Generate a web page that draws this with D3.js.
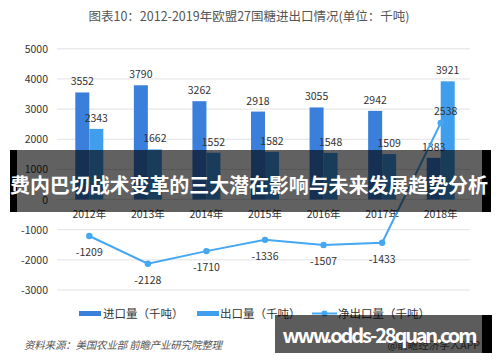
<!DOCTYPE html>
<html><head><meta charset="utf-8">
<script src="https://cdn.jsdelivr.net/npm/d3@7"></script>
<style>body{margin:0;background:#fff}svg{display:block}text{font-family:"Noto Sans CJK SC","Noto Sans",sans-serif}</style>
</head><body><svg id="c" width="500" height="362"></svg>
<script>
const years = ["2012年","2013年","2014年","2015年","2016年","2017年","2018年"];
const imports = [3552,3790,3262,2918,3055,2942,1383];
const exports = [2343,1662,1552,1582,1548,1509,3921];
const net = [-1209,-2128,-1710,-1336,-1507,-1433,2538];
const yTicks = [5000,4000,3000,2000,1000,0,-1000,-2000,-3000];
const seriesNames = ["进口量（千吨）","出口量（千吨）","净出口量（千吨）"];

const svg = d3.select("#c");
const x = d3.scaleBand().domain(years).range([60,470]);
const y = d3.scaleLinear().domain([-3000,5000]).range([290,48.8]);
const bw = 14;
const cImp = "#3a7fdc", cExp = "#3f9fec", cNet = "#45a7f1";

svg.append("text").attr("x",249).attr("y",21).attr("text-anchor","middle")
  .attr("font-size",12.5).attr("fill","#555").text("图表10：2012-2019年欧盟27国糖进出口情况(单位：千吨)");

// grid
svg.append("g").selectAll("line").data(yTicks).join("line")
  .attr("x1",57).attr("x2",470).attr("y1",d=>y(d)).attr("y2",d=>y(d))
  .attr("stroke","#e2e2e2").attr("stroke-width",1);
svg.append("g").selectAll("text").data(yTicks).join("text")
  .attr("x",48).attr("y",d=>y(d)+4).attr("text-anchor","end")
  .attr("font-size",10.5).attr("fill","#333").text(d=>d);

const cx = d=>x(d)+x.bandwidth()/2;
// bars
svg.append("g").selectAll("rect").data(years).join("rect")
  .attr("x",d=>cx(d)-bw).attr("width",bw)
  .attr("y",(d,i)=>y(imports[i])).attr("height",(d,i)=>y(0)-y(imports[i])).attr("fill",cImp);
svg.append("g").selectAll("rect").data(years).join("rect")
  .attr("x",d=>cx(d)).attr("width",bw)
  .attr("y",(d,i)=>y(exports[i])).attr("height",(d,i)=>y(0)-y(exports[i])).attr("fill",cExp);
svg.append("g").selectAll("text").data(years).join("text")
  .attr("x",d=>cx(d)-bw/2).attr("y",(d,i)=>y(imports[i])-7).attr("text-anchor","middle")
  .attr("font-size",10.5).attr("fill","#333").text((d,i)=>imports[i]);
svg.append("g").selectAll("text").data(years).join("text")
  .attr("x",d=>cx(d)+bw/2).attr("y",(d,i)=>y(exports[i])-7).attr("text-anchor","middle")
  .attr("font-size",10.5).attr("fill","#333").text((d,i)=>exports[i]);

// x labels
svg.append("g").selectAll("text").data(years).join("text")
  .attr("x",cx).attr("y",218).attr("text-anchor","middle")
  .attr("font-size",10.5).attr("fill","#333").text(d=>d);

// line
const line = d3.line().x((d,i)=>cx(years[i])).y(d=>y(d));
svg.append("path").datum(net).attr("d",line).attr("fill","none").attr("stroke",cNet).attr("stroke-width",2);
svg.append("g").selectAll("circle").data(net).join("circle")
  .attr("cx",(d,i)=>cx(years[i])).attr("cy",d=>y(d)).attr("r",3.2).attr("fill",cNet);
svg.append("g").selectAll("text").data(net).join("text")
  .attr("x",(d,i)=>cx(years[i])+(d>0?5:0)).attr("y",d=>d>0?y(d)-8:y(d)+20).attr("text-anchor","middle")
  .attr("font-size",10.5).attr("fill","#333").text(d=>d);

// legend
const lg = svg.append("g");
const lx = [79,197,312];
lg.append("rect").attr("x",lx[0]).attr("y",311).attr("width",22).attr("height",5).attr("fill",cImp);
lg.append("rect").attr("x",lx[1]).attr("y",311).attr("width",22).attr("height",5).attr("fill",cExp);
lg.append("line").attr("x1",lx[2]).attr("x2",lx[2]+25).attr("y1",313.5).attr("y2",313.5).attr("stroke",cNet).attr("stroke-width",2);
lg.append("circle").attr("cx",lx[2]+12.5).attr("cy",313.5).attr("r",3).attr("fill",cNet);
lg.selectAll("text").data(seriesNames).join("text")
  .attr("x",(d,i)=>[103,220,338][i]).attr("y",317.5).attr("font-size",11.5).attr("fill","#333").text(d=>d);

// source
svg.append("text").attr("x",24).attr("y",349).attr("font-size",10.5).attr("fill","#555")
  .attr("font-style","italic").text("资料来源：美国农业部 前瞻产业研究院整理")
  .attr("textLength",198);
svg.append("text").attr("x",480).attr("y",349).attr("text-anchor","end").attr("font-size",10.5).attr("fill","#555").text("@前瞻经济学人APP");

// overlays
svg.append("rect").attr("x",10).attr("y",150).attr("width",481).attr("height",62).attr("fill","rgba(0,0,0,0.62)");
svg.append("rect").attr("x",10).attr("y",150).attr("width",7).attr("height",62).attr("fill","#000");
svg.append("rect").attr("x",482).attr("y",150).attr("width",9).attr("height",62).attr("fill","#000");
svg.append("text").attr("x",249).attr("y",193).attr("text-anchor","middle").attr("font-size",20).attr("font-weight","bold")
  .attr("fill","#fff").attr("textLength",478).text("费内巴切战术变革的三大潜在影响与未来发展趋势分析");
svg.append("rect").attr("x",275).attr("y",315).attr("width",207).attr("height",38).attr("fill","rgba(0,0,0,0.64)");
svg.append("rect").attr("x",482).attr("y",315).attr("width",10).attr("height",38).attr("fill","#000");
svg.append("text").attr("x",380).attr("y",343).attr("text-anchor","middle").attr("font-size",20).attr("font-weight","bold")
  .attr("fill","#fff").attr("textLength",195).text("www.odds-28quan.com");
</script></body></html>
